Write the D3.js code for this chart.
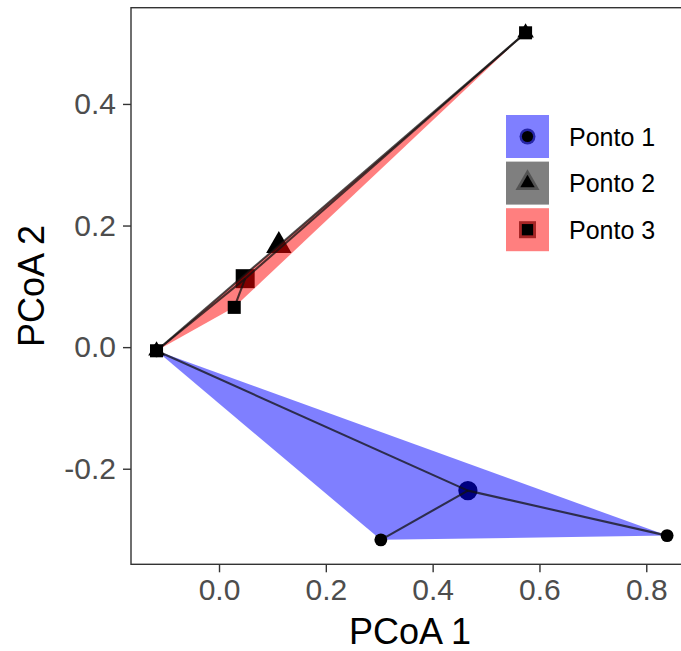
<!DOCTYPE html>
<html>
<head>
<meta charset="utf-8">
<script src="https://cdn.jsdelivr.net/npm/d3@7"></script>
<style>
  body { margin: 0; background: #fff; }
  svg { display: block; font-family: "Liberation Sans", Arial, sans-serif; }
</style>
</head>
<body>
<div id="chart"></div>
<script>
// group names and colours
var groups = ["Ponto 1", "Ponto 2", "Ponto 3"];
var hullColors = ["#0000ff", "#000000", "#ff0000"];
var shapes = [d3.symbolCircle, d3.symbolTriangle, d3.symbolSquare];

// sample scores, one pair of arrays per group
var ponto1X = [-0.117, 0.303, 0.839];
var ponto1Y = [-0.006, -0.317, -0.310];
var ponto2X = [-0.117, 0.574];
var ponto2Y = [-0.006, 0.517];
var ponto3X = [-0.117, 0.0285, 0.574];
var ponto3Y = [-0.006, 0.0654, 0.517];

// group centroids
var centroidX = [0.466, 0.112, 0.049];
var centroidY = [-0.236, 0.167, 0.1126];

var xTicks = [0.0, 0.2, 0.4, 0.6, 0.8];
var yTicks = [-0.2, 0.0, 0.2, 0.4];

var width = 681, height = 651;
var panelLeft = 131, panelRight = 689, panelTop = 7.7, panelBottom = 564.3;

var svg = d3.select('#chart').append('svg').attr('width', width).attr('height', height);

var x = d3.scaleLinear().domain([-0.1648, 0.880]).range([panelLeft, panelRight]);
var y = d3.scaleLinear().domain([-0.3572, 0.5583]).range([panelBottom, panelTop]);

var groupX = [ponto1X, ponto2X, ponto3X];
var groupY = [ponto1Y, ponto2Y, ponto3Y];
var data = groups.map(function (g, i) {
    return {
        name: g,
        i: i,
        pts: groupX[i].map(function (v, j) { return [x(v), y(groupY[i][j])]; }),
        c: [x(centroidX[i]), y(centroidY[i])]
    };
});

var plot = svg.append('g');

// centroids (drawn under the hulls)
var centroidSize = [290, 280, 360];
plot.selectAll('path.centroid')
    .data(data)
    .enter()
    .append('path')
    .attr('class', 'centroid')
    .attr('d', function (d) { return d3.symbol().type(shapes[d.i]).size(centroidSize[d.i])(); })
    .attr('transform', function (d) { return 'translate(' + d.c[0] + ',' + d.c[1] + ')'; })
    .attr('fill', '#000');

// convex hulls
plot.selectAll('path.hull')
    .data(data)
    .enter()
    .append('path')
    .attr('class', 'hull')
    .attr('d', function (d) {
        var h = d.pts.length > 2 ? d3.polygonHull(d.pts) : d.pts;
        return 'M' + h.join('L') + 'Z';
    })
    .attr('fill', function (d) { return hullColors[d.i]; })
    .attr('fill-opacity', 0.5)
    .attr('stroke', 'none');

// spider lines from centroid to each sample
data.forEach(function (d) {
    plot.selectAll(null)
        .data(d.pts)
        .enter()
        .append('line')
        .attr('x1', d.c[0]).attr('y1', d.c[1])
        .attr('x2', function (p) { return p[0]; })
        .attr('y2', function (p) { return p[1]; })
        .attr('stroke', '#111')
        .attr('stroke-opacity', 0.75)
        .attr('stroke-width', 2.1);
});

// sample points
var pointSize = [130, 120, 170];
data.forEach(function (d) {
    plot.selectAll(null)
        .data(d.pts)
        .enter()
        .append('path')
        .attr('d', d3.symbol().type(shapes[d.i]).size(pointSize[d.i])())
        .attr('transform', function (p) { return 'translate(' + p[0] + ',' + p[1] + ')'; })
        .attr('fill', '#000');
});

// panel border (right side falls outside the picture)
svg.append('rect')
    .attr('x', panelLeft).attr('y', panelTop)
    .attr('width', panelRight - panelLeft).attr('height', panelBottom - panelTop)
    .attr('fill', 'none').attr('stroke', '#333').attr('stroke-width', 1.4);

// axes
var xAxis = svg.append('g')
    .attr('transform', 'translate(0,' + panelBottom + ')')
    .call(d3.axisBottom(x).tickValues(xTicks).tickFormat(d3.format('.1f')).tickSize(8).tickPadding(6));
var yAxis = svg.append('g')
    .attr('transform', 'translate(' + panelLeft + ',0)')
    .call(d3.axisLeft(y).tickValues(yTicks).tickFormat(d3.format('.1f')).tickSize(8).tickPadding(7));
[xAxis, yAxis].forEach(function (a) {
    a.select('.domain').remove();
    a.selectAll('line').attr('stroke', '#333').attr('stroke-width', 1.4);
    a.selectAll('text').attr('fill', '#4d4d4d').attr('font-size', 30)
        .attr('font-family', '"Liberation Sans", Arial, sans-serif');
});
yAxis.selectAll('text').text(function (d) { return d3.format('.1f')(d).replace('−', '-'); });
xAxis.selectAll('text').attr('dy', '0.71em');

// axis titles
svg.append('text')
    .attr('x', (panelLeft + panelRight) / 2).attr('y', 644)
    .attr('text-anchor', 'middle').attr('font-size', 36).attr('fill', '#000')
    .text('PCoA 1');
svg.append('text')
    .attr('transform', 'translate(44,' + ((panelTop + panelBottom) / 2) + ') rotate(-90)')
    .attr('text-anchor', 'middle').attr('font-size', 36).attr('fill', '#000')
    .text('PCoA 2');

// legend
var keySize = 43, keyGap = 3.6, legX = 506, legY = 115;
var haloColors = ['#000080', '#404040', '#800000'];
var haloSize = [200, 250, 290];
var legend = svg.append('g');
var rows = legend.selectAll('g')
    .data(data)
    .enter()
    .append('g')
    .attr('transform', function (d) { return 'translate(' + legX + ',' + (legY + d.i * (keySize + keyGap)) + ')'; });
rows.append('rect')
    .attr('width', keySize).attr('height', keySize)
    .attr('fill', function (d) { return hullColors[d.i]; })
    .attr('fill-opacity', 0.5);
rows.append('path')
    .attr('d', function (d) { return d3.symbol().type(shapes[d.i]).size(haloSize[d.i])(); })
    .attr('transform', 'translate(' + keySize / 2 + ',' + keySize / 2 + ')')
    .attr('fill', function (d) { return haloColors[d.i]; })
    .attr('fill-opacity', 0.7);
rows.append('path')
    .attr('d', function (d) { return d3.symbol().type(shapes[d.i]).size(pointSize[d.i] * 0.75)(); })
    .attr('transform', 'translate(' + keySize / 2 + ',' + keySize / 2 + ')')
    .attr('fill', '#000');
rows.append('text')
    .attr('x', 63).attr('y', keySize / 2).attr('dy', '0.36em')
    .attr('font-size', 25).attr('fill', '#000')
    .text(function (d) { return d.name; });
</script>
</body>
</html>
